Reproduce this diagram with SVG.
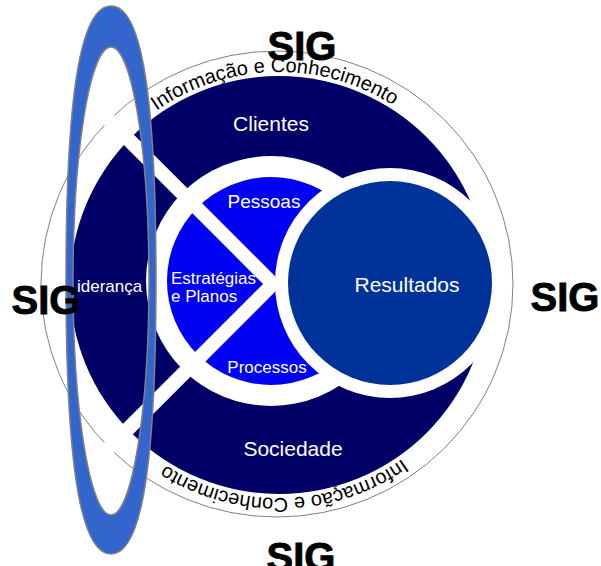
<svg xmlns="http://www.w3.org/2000/svg" width="601" height="566" viewBox="0 0 601 566">
<defs>
<style>
.lbl{font-family:"Liberation Sans",Arial,sans-serif;fill:#ffffff}
.arc{font-family:"Liberation Sans",Arial,sans-serif;font-size:20px;fill:#000000}
.sig{font-family:"Liberation Sans",Arial,sans-serif;font-size:40px;font-weight:bold;fill:#000000;stroke:#000000;stroke-width:0.9;text-anchor:middle}
</style>
<path id="txtArc" d="M 66,285 A 213,213 0 0 1 492,285 A 213,213 0 0 1 66,285"/>
<clipPath id="diskClip"><circle cx="279" cy="285" r="209"/></clipPath>
</defs>
<rect width="601" height="566" fill="#ffffff"/>
<g id="outer-circle">
<ellipse cx="277" cy="284" rx="236" ry="233" fill="none" stroke="#808080" stroke-width="1"/>
<text class="arc"><textPath href="#txtArc" startOffset="24.64%" text-anchor="middle">Informação e Conhecimento</textPath></text>
<text class="arc"><textPath href="#txtArc" startOffset="74.58%" text-anchor="middle">Informação e Conhecimento</textPath></text>
</g>
<g id="disk">
<circle cx="279" cy="285" r="209" fill="#000066"/>
<polyline points="80,91 273,284 80,477" fill="none" stroke="#ffffff" stroke-width="14" clip-path="url(#diskClip)"/>
</g>
<g id="clientes"><text class="lbl" x="271" y="131" font-size="21" text-anchor="middle">Clientes</text></g>
<g id="sociedade"><text class="lbl" x="293" y="456" font-size="21" text-anchor="middle">Sociedade</text></g>
<g id="lideranca"><text class="lbl" x="67.5" y="292" font-size="17">Liderança</text></g>
<g id="inner">
<circle cx="271" cy="281" r="125" fill="#ffffff"/>
<circle cx="271" cy="281" r="104" fill="#0000f2"/>
<polyline points="100,111 273,284 100,457" fill="none" stroke="#ffffff" stroke-width="14"/>
</g>
<g id="pessoas"><text class="lbl" x="264" y="208" font-size="19" text-anchor="middle">Pessoas</text></g>
<g id="estrategias"><text class="lbl" x="171" y="284" font-size="17">Estratégias</text><text class="lbl" x="171" y="302" font-size="17">e Planos</text></g>
<g id="processos"><text class="lbl" x="267" y="373" font-size="17" text-anchor="middle">Processos</text></g>
<g id="resultados">
<circle cx="390" cy="283" r="115" fill="#ffffff"/>
<circle cx="390" cy="283" r="102" fill="#003399"/>
<text class="lbl" x="407" y="292" font-size="21" text-anchor="middle">Resultados</text>
</g>
<g id="connectors"/>
<g id="sig-ring">
<path fill-rule="evenodd" fill="#3366cc" stroke="#808080" stroke-width="1.5" d="M 111,6 C 138,6 156,74 156,280 C 156,486 138,554 111,554 C 84,554 66,486 66,280 C 66,74 84,6 111,6 Z M 111,47 A 38,234 0 0 0 111,515 A 38,234 0 0 0 111,47 Z"/>
</g>
<g id="sig-labels">
<text class="sig" x="302" y="60">SIG</text>
<text class="sig" x="46" y="314">SIG</text>
<text class="sig" x="565" y="311">SIG</text>
<text class="sig" x="301" y="571">SIG</text>
</g>
</svg>
